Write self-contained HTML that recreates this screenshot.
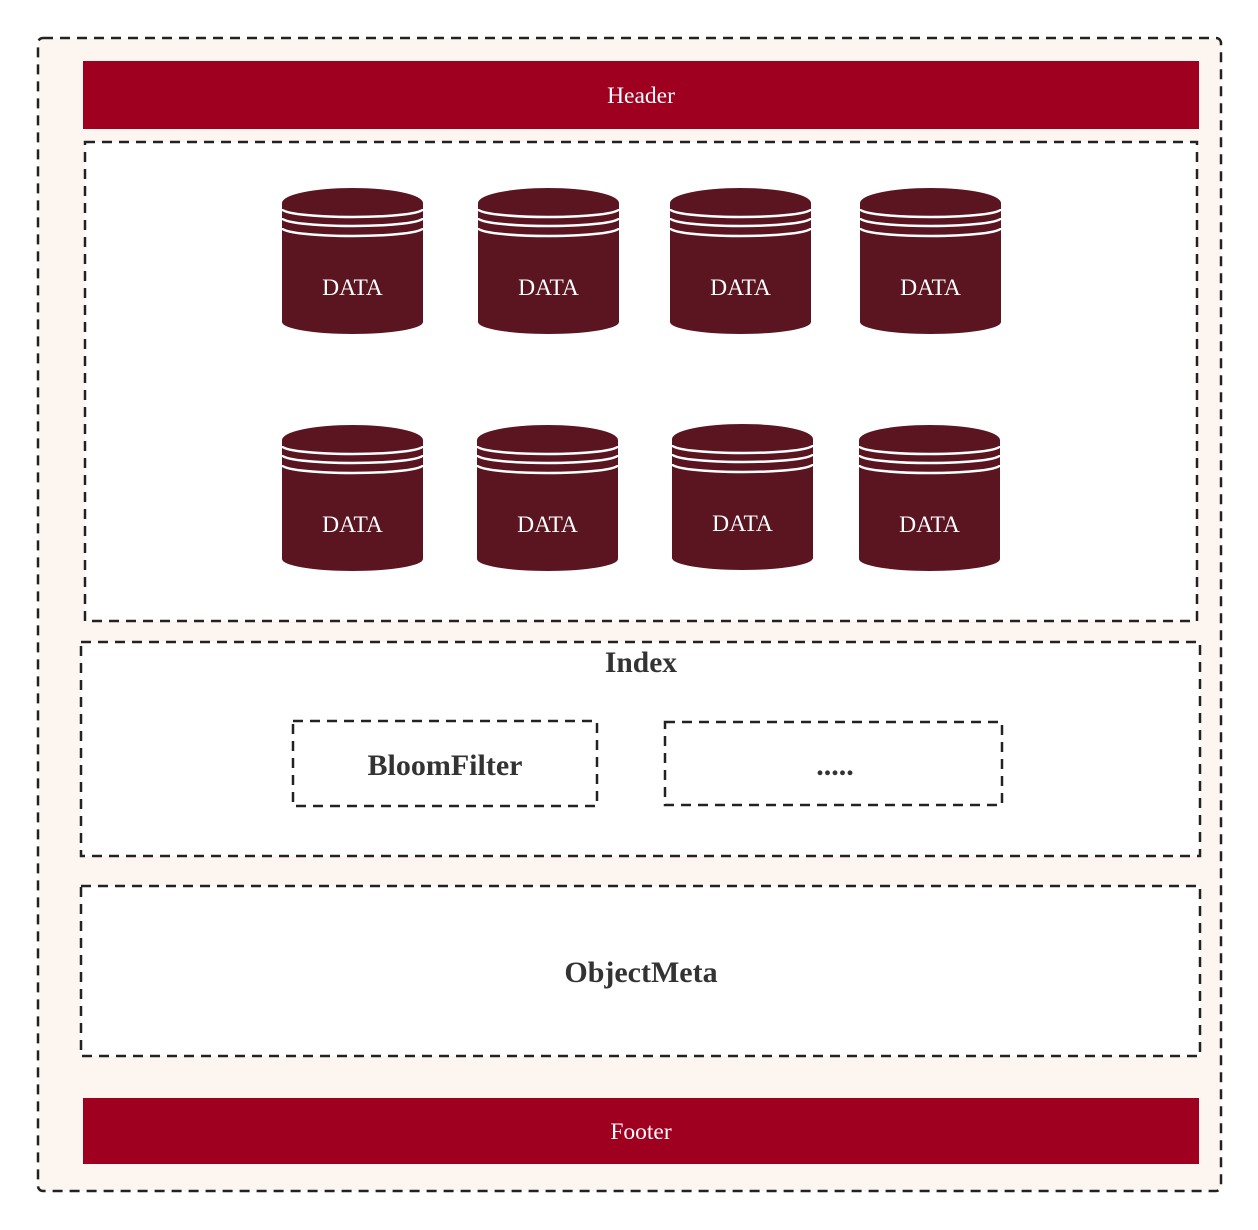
<!DOCTYPE html>
<html><head><style>body{margin:0;background:#fff}svg{display:block}</style></head><body>
<svg width="1258" height="1230" xmlns="http://www.w3.org/2000/svg" font-family="Liberation Serif, serif">
<defs>
<g id="cyl">
<path d="M0,15 A70.5,15 0 0 1 141,15 L141,134 A70.5,12 0 0 1 0,134 Z" fill="#5A1520"/>
<path d="M0,21 A70.5,8 0 0 0 141,21" fill="none" stroke="#fff" stroke-width="2.5"/>
<path d="M0,30 A70.5,8 0 0 0 141,30" fill="none" stroke="#fff" stroke-width="2.5"/>
<path d="M0,40 A70.5,8 0 0 0 141,40" fill="none" stroke="#fff" stroke-width="2.5"/>
<text x="70.5" y="107" text-anchor="middle" font-size="23.5" fill="#fff">DATA</text>
</g>
</defs>
<rect x="38" y="38" width="1183" height="1153" rx="5" fill="#FDF6F0" stroke="#222" stroke-width="2.5" stroke-dasharray="10,7"/>
<rect x="83" y="61" width="1116" height="68" fill="#A00020"/>
<text x="641" y="103" text-anchor="middle" font-size="23.5" fill="#fff">Header</text>
<rect x="85" y="142" width="1112" height="479" fill="#fff" stroke="#222" stroke-width="2.5" stroke-dasharray="10,7"/>
<use href="#cyl" x="282" y="188"/><use href="#cyl" x="478" y="188"/><use href="#cyl" x="670" y="188"/><use href="#cyl" x="860" y="188"/>
<use href="#cyl" x="282" y="425"/><use href="#cyl" x="477" y="425"/><use href="#cyl" x="672" y="424"/><use href="#cyl" x="859" y="425"/>
<rect x="81" y="642" width="1119" height="214" fill="#fff" stroke="#222" stroke-width="2.5" stroke-dasharray="10,7"/>
<text x="641" y="672" text-anchor="middle" font-size="29.5" font-weight="bold" fill="#333">Index</text>
<rect x="293" y="721" width="304" height="85" fill="#fff" stroke="#222" stroke-width="2.5" stroke-dasharray="10,7"/>
<text x="445" y="775" text-anchor="middle" font-size="30" font-weight="bold" fill="#333">BloomFilter</text>
<rect x="665" y="722" width="337" height="83" fill="#fff" stroke="#222" stroke-width="2.5" stroke-dasharray="10,7"/>
<text x="835" y="775" text-anchor="middle" font-size="30" font-weight="bold" fill="#333">.....</text>
<rect x="81" y="886" width="1119" height="170" fill="#fff" stroke="#222" stroke-width="2.5" stroke-dasharray="10,7"/>
<text x="641" y="982" text-anchor="middle" font-size="30" font-weight="bold" fill="#333">ObjectMeta</text>
<rect x="83" y="1098" width="1116" height="66" fill="#A00020"/>
<text x="641" y="1139" text-anchor="middle" font-size="23.5" fill="#fff">Footer</text>
</svg>
</body></html>
